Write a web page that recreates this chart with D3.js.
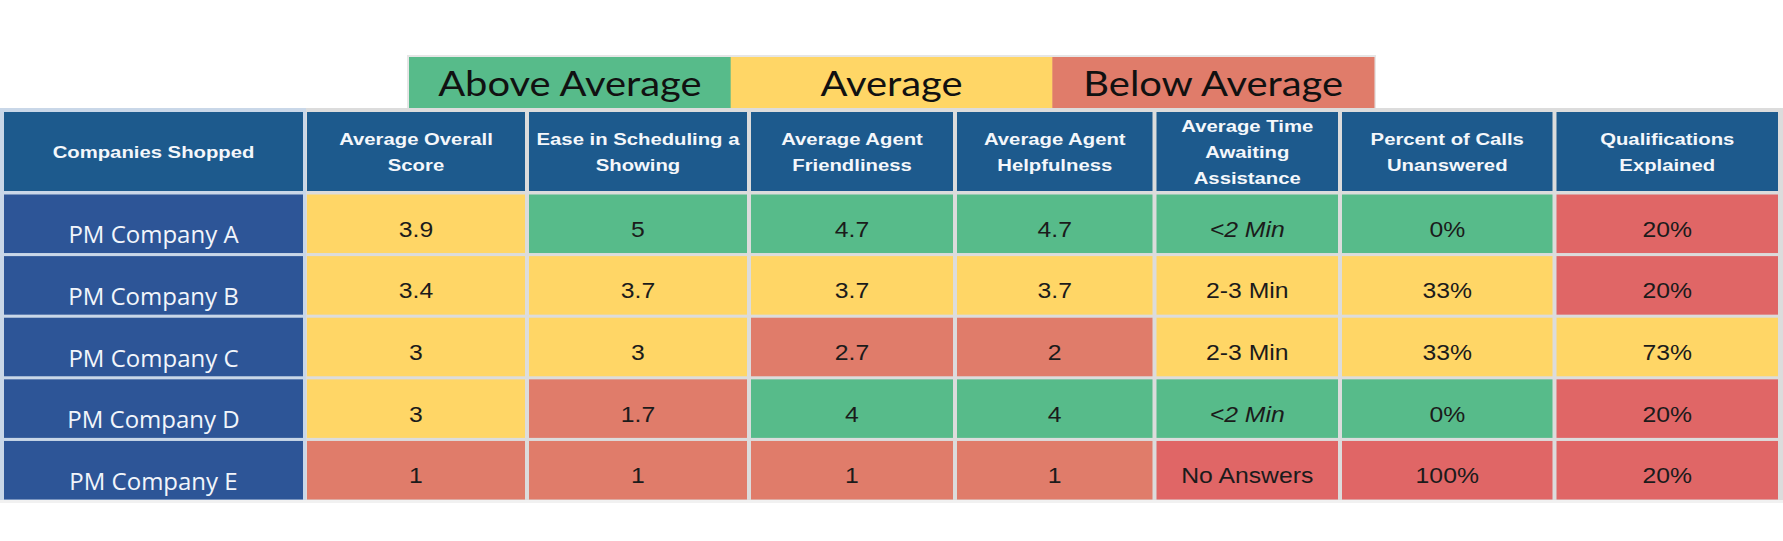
<!DOCTYPE html>
<html>
<head>
<meta charset="utf-8">
<script src="https://cdn.jsdelivr.net/npm/d3@7"></script>
<style>
  html, body { margin: 0; padding: 0; background: #ffffff; }
  svg { display: block; }
</style>
</head>
<body>
<svg id="chart" width="1783" height="541"></svg>
<script>
// ---------------- DATA ----------------
const legendLabels = ["Above Average", "Average", "Below Average"];
const headerTitle = "Companies Shopped";
const columns = [
  ["Average Overall", "Score"],
  ["Ease in Scheduling a", "Showing"],
  ["Average Agent", "Friendliness"],
  ["Average Agent", "Helpfulness"],
  ["Average Time", "Awaiting", "Assistance"],
  ["Percent of Calls", "Unanswered"],
  ["Qualifications", "Explained"]
];
const categories = ["PM Company A", "PM Company B", "PM Company C", "PM Company D", "PM Company E"];
const overallScore   = ["3.9", "3.4", "3", "3", "1"];
const easeScheduling = ["5", "3.7", "3", "1.7", "1"];
const friendliness   = ["4.7", "3.7", "2.7", "4", "1"];
const helpfulness    = ["4.7", "3.7", "2", "4", "1"];
const timeAwaiting   = ["<2 Min", "2-3 Min", "2-3 Min", "<2 Min", "No Answers"];
const pctUnanswered  = ["0%", "33%", "33%", "0%", "100%"];
const qualifications = ["20%", "20%", "73%", "20%", "20%"];
// ratings per column: A = above, M = average, B = below, P = poor (deep red)
const overallRating  = ["M", "M", "M", "M", "B"];
const easeRating     = ["A", "M", "M", "B", "B"];
const friendRating   = ["A", "M", "B", "A", "B"];
const helpRating     = ["A", "M", "B", "A", "B"];
const timeRating     = ["A", "M", "M", "A", "P"];
const pctRating      = ["A", "M", "M", "A", "P"];
const qualRating     = ["P", "P", "M", "P", "P"];

const values = [overallScore, easeScheduling, friendliness, helpfulness, timeAwaiting, pctUnanswered, qualifications];
const ratings = [overallRating, easeRating, friendRating, helpRating, timeRating, pctRating, qualRating];

// ---------------- STYLE / LAYOUT ----------------
const colorOf = { A: "#57bb8a", M: "#ffd666", B: "#e07c6a", P: "#e06666" };
const legendColors = ["#57bb8a", "#ffd666", "#e07c6a"];
const headerBlue = "#1d5a8d";
const firstColBlue = "#2d5597";
const colWeights = [301, 222, 222, 206, 199.5, 185.5, 214.5, 223.5];

const svg = d3.select("#chart");

// column edges via linear scale on cumulative weights
const cum = [0];
colWeights.forEach(w => cum.push(cum[cum.length - 1] + w));
const x = d3.scaleLinear().domain([0, cum[cum.length - 1]]).range([4, 1778]);
const gap = 4;
function colX0(i) { return x(cum[i]) + (i === 0 ? 0 : gap / 2); }
function colX1(i) { return x(cum[i + 1]) - (i === colWeights.length - 1 ? 0 : gap / 2); }

const y = d3.scaleBand().domain(categories).range([194.5, 499.5]).paddingInner(0.05).paddingOuter(0);
const headerTop = 112, headerBottom = 191;

// ---------------- LEGEND ----------------
const lx = d3.scaleBand().domain(legendLabels).range([409, 1374]);
svg.append("rect").attr("x", 407).attr("y", 55).attr("width", 969).attr("height", 54)
  .attr("fill", "#e6e6e6");
const lg = svg.selectAll("g.leg").data(legendLabels).enter().append("g").attr("class", "leg");
lg.append("rect")
  .attr("x", d => lx(d)).attr("y", 57)
  .attr("width", lx.bandwidth() + 0.5).attr("height", 51)
  .attr("fill", (d, i) => legendColors[i]);
lg.append("text")
  .attr("transform", d => `translate(${lx(d) + lx.bandwidth() / 2},96) scale(1.14,1)`)
  .attr("text-anchor", "middle")
  .style("font-family", "Lato, 'Noto Sans', sans-serif")
  .style("font-size", "35px")
  .attr("fill", "#111")
  .text(d => d);

// ---------------- TABLE BACKGROUND ----------------
svg.append("rect").attr("x", 0).attr("y", 108).attr("width", 1783).attr("height", 395)
  .attr("fill", "#dcdcdc");
svg.append("rect").attr("x", 0).attr("y", 108).attr("width", colX1(0) + 3).attr("height", 395)
  .attr("fill", "#c9d7e8");
svg.append("rect").attr("x", 0).attr("y", 500).attr("width", 1783).attr("height", 3).attr("fill", "#f1f1f1");

// ---------------- HEADER ----------------
const headerLines = [[headerTitle]].concat(columns);
const hg = svg.selectAll("g.hdr").data(headerLines).enter().append("g").attr("class", "hdr");
hg.append("rect")
  .attr("x", (d, i) => colX0(i)).attr("y", headerTop)
  .attr("width", (d, i) => colX1(i) - colX0(i)).attr("height", headerBottom - headerTop)
  .attr("fill", headerBlue);
const lineGap = 26;
hg.each(function (lines, i) {
  const g = d3.select(this);
  const cx = (colX0(i) + colX1(i)) / 2;
  const cy = (headerTop + headerBottom) / 2;
  const fs = 17.2;
  lines.forEach((t, k) => {
    const ly = cy + (k - (lines.length - 1) / 2) * lineGap + fs * 0.36;
    g.append("text")
      .attr("transform", `translate(${cx},${ly}) scale(1.18,1)`)
      .attr("text-anchor", "middle")
      .style("font-family", "'Liberation Sans', Arial, sans-serif")
      .style("font-weight", "bold")
      .style("font-size", fs + "px")
      .attr("fill", "#f4f7fb")
      .text(t);
  });
});

// ---------------- FIRST COLUMN ----------------
const rg = svg.selectAll("g.row").data(categories).enter().append("g").attr("class", "row");
rg.append("rect")
  .attr("x", colX0(0)).attr("y", d => y(d))
  .attr("width", colX1(0) - colX0(0)).attr("height", y.bandwidth())
  .attr("fill", firstColBlue);
rg.append("text")
  .attr("x", (colX0(0) + colX1(0)) / 2)
  .attr("y", d => y(d) + y.bandwidth() / 2 + 19.5)
  .attr("text-anchor", "middle")
  .style("font-family", "'Open Sans', 'Noto Sans', sans-serif")
  .style("font-size", "24px")
  .attr("fill", "#f2f5fb")
  .text(d => d);

// ---------------- VALUE CELLS ----------------
const cells = [];
values.forEach((col, ci) => {
  col.forEach((v, ri) => cells.push({ ci: ci + 1, cat: categories[ri], v: v, r: ratings[ci][ri] }));
});
const cg = svg.selectAll("g.cell").data(cells).enter().append("g").attr("class", "cell");
cg.append("rect")
  .attr("x", d => colX0(d.ci)).attr("y", d => y(d.cat))
  .attr("width", d => colX1(d.ci) - colX0(d.ci)).attr("height", y.bandwidth())
  .attr("fill", d => colorOf[d.r]);
cg.append("text")
  .attr("transform", d => `translate(${(colX0(d.ci) + colX1(d.ci)) / 2},${y(d.cat) + y.bandwidth() / 2 + 13}) scale(1.1,1)`)
  .attr("text-anchor", "middle")
  .style("font-family", "'Liberation Sans', Arial, sans-serif")
  .style("font-size", "22.5px")
  .style("font-style", d => d.v.startsWith("<") ? "italic" : "normal")
  .attr("fill", "#1b1b1b")
  .text(d => d.v);
</script>
</body>
</html>
